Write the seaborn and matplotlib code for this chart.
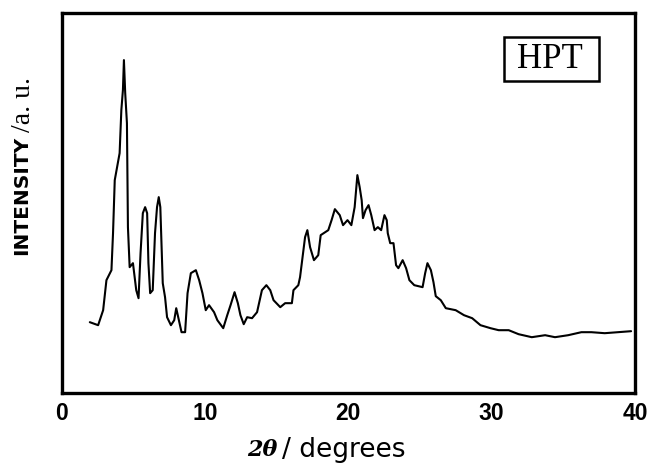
import matplotlib
matplotlib.use("Agg")
import matplotlib.pyplot as plt
from matplotlib.patches import Rectangle
import seaborn as sns

# 2-theta (degrees) and intensity (a.u.)
two_theta = [
    1.96, 2.54, 2.89, 3.12, 3.47, 3.58, 3.70, 4.04, 4.16, 4.27, 4.34, 4.43, 4.55, 4.62,
    4.74, 4.97, 5.20, 5.36, 5.50, 5.66, 5.82, 5.96, 6.05, 6.17, 6.35, 6.51, 6.65, 6.77,
    6.88, 7.05, 7.21, 7.35, 7.62, 7.85, 7.99, 8.13, 8.36, 8.61, 8.78, 9.01, 9.36, 9.59,
    9.82, 10.05, 10.28, 10.63, 10.86, 11.27, 11.55, 11.78, 12.06, 12.29, 12.47, 12.70,
    12.94, 13.28, 13.63, 13.86, 13.97, 14.28, 14.55, 14.78, 15.25, 15.59, 16.06, 16.17,
    16.51, 16.63, 16.98, 17.14, 17.33, 17.60, 17.90, 18.07, 18.60, 18.83, 19.06, 19.40,
    19.63, 19.94, 20.21, 20.44, 20.63, 20.79, 20.93, 21.02, 21.20, 21.41, 21.60, 21.83,
    22.06, 22.29, 22.52, 22.68, 22.75, 22.92, 23.15, 23.33, 23.49, 23.79, 24.03, 24.26,
    24.60, 25.18, 25.36, 25.52, 25.76, 25.94, 26.10, 26.45, 26.80, 27.49, 28.07, 28.64,
    29.22, 29.92, 30.49, 31.19, 31.88, 32.80, 33.73, 34.42, 35.34, 36.26, 36.96, 37.89,
    38.81, 39.73,
]
intensity = [
    71, 68, 83, 113, 123, 160, 213, 240, 283, 303, 333, 300, 270, 166,
    126, 130, 103, 95, 140, 180, 186, 180, 130, 100, 103, 160, 186, 196,
    186, 110, 96, 76, 68, 73, 85, 76, 61, 61, 100, 120, 123, 113,
    100, 83, 88, 81, 73, 65, 78, 88, 101, 90, 78, 69,
    76, 75, 81, 96, 103, 108, 103, 93, 86, 90, 90, 103,
    108, 116, 156, 163, 146, 133, 138, 158, 163, 173, 184, 178,
    168, 173, 168, 186, 218, 206, 193, 175, 183, 188, 178, 163,
    166, 163, 178, 173, 160, 150, 150, 128, 125, 133, 125, 113,
    108, 106, 120, 130, 123, 111, 97, 93, 85, 83, 78, 75,
    68, 65, 63, 63, 59, 56, 58, 56, 58, 61, 61, 60,
    61, 62,
]
x_ticks = [0, 10, 20, 30, 40]

sns.set_style("white")
plt.rcParams["text.color"] = "black"
plt.rcParams["xtick.color"] = "black"
plt.rcParams["xtick.labelcolor"] = "black"

fig = plt.figure(figsize=(6.47, 4.67), dpi=100)
ax = fig.add_axes([0.0954, 0.158, 0.886, 0.814])

sns.lineplot(x=two_theta, y=intensity, ax=ax, color="black", linewidth=1.5,
             estimator=None, sort=False)

ax.set_xlim(0, 40)
ax.set_ylim(0, 380)
ax.set_xticks(x_ticks)
ax.set_xticklabels([str(t) for t in x_ticks],
                   family=["Liberation Sans Narrow", "Liberation Sans"],
                   fontweight="bold", fontsize=16.5, color="black")
ax.set_yticks([])
ax.tick_params(axis="x", direction="in", length=4, width=1.2, pad=6, color="black")
for side in ["left", "right", "top", "bottom"]:
    ax.spines[side].set_color("black")
    ax.spines[side].set_linewidth(2.4)

# sample label box
ax.add_patch(Rectangle((0.7715, 0.821), 0.1655, 0.116, transform=ax.transAxes,
                       facecolor="white", edgecolor="black", linewidth=1.8, zorder=3))
ax.text(0.8517, 0.8545, "HPT", transform=ax.transAxes, ha="center", va="baseline",
        family="Liberation Serif", fontsize=25, color="black", zorder=4)

# y label: bold sans part + serif part
fig.text(21.5 / 647, 1 - 195.5 / 467, "INTENSITY", rotation=90, ha="center", va="center",
         family="DejaVu Sans", fontweight="bold", fontsize=14.5, color="black")
fig.text(23 / 647, 1 - 104 / 467, "/a. u.", rotation=90, ha="center", va="center",
         family="Liberation Serif", fontsize=20, color="black")

# x label: bold italic 2theta + sans text
fig.text(277 / 647, 1 - 450 / 467, "2\u03b8", ha="right", va="center",
         family="DejaVu Serif", fontweight="bold", style="italic", fontsize=16,
         color="black")
fig.text(282 / 647, 1 - 450 / 467, "/ degrees", ha="left", va="center",
         family="DejaVu Sans", fontsize=19, color="black")

fig.savefig("out.png", dpi=100)
